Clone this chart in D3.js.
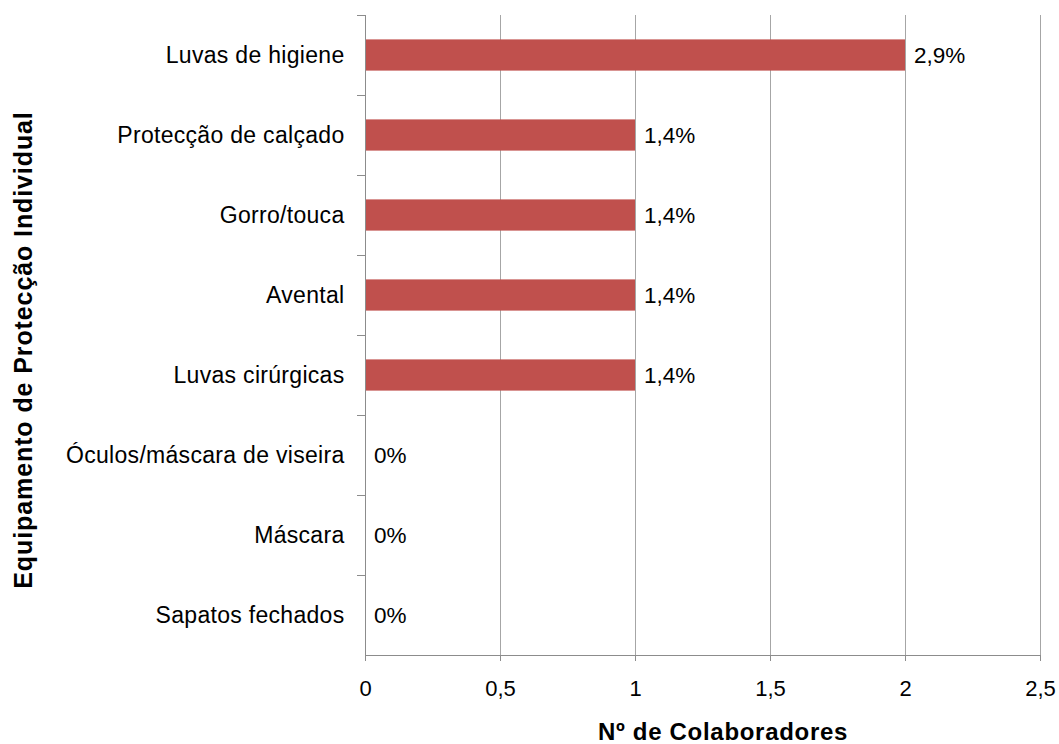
<!DOCTYPE html>
<html>
<head>
<meta charset="utf-8">
<script src="https://cdn.jsdelivr.net/npm/d3@7"></script>
<style>
  html, body { margin: 0; padding: 0; background: #fff; }
  svg { display: block; font-family: "Liberation Sans", Arial, sans-serif; }
</style>
</head>
<body>
<svg id="chart" width="1059" height="744"></svg>
<script>
// Equipment items, top to bottom
const categories = [
  "Luvas de higiene",
  "Protecção de calçado",
  "Gorro/touca",
  "Avental",
  "Luvas cirúrgicas",
  "Óculos/máscara de viseira",
  "Máscara",
  "Sapatos fechados"
];
// Number of staff per item
const counts = [2, 1, 1, 1, 1, 0, 0, 0];
// Share labels shown at the bar ends
const shareLabels = ["2,9%", "1,4%", "1,4%", "1,4%", "1,4%", "0%", "0%", "0%"];
// X axis ticks
const xTicks = [0, 0.5, 1, 1.5, 2, 2.5];

const xTitle = "Nº de Colaboradores";
const yTitle = "Equipamento de Protecção Individual";

const margin = { top: 15, left: 365, right: 19, bottom: 89 };
const W = 1059, H = 744;
const innerW = W - margin.left - margin.right;
const innerH = H - margin.top - margin.bottom;

const svg = d3.select("#chart");
const g = svg.append("g").attr("transform", `translate(${margin.left},${margin.top})`);

const x = d3.scaleLinear().domain([0, 2.5]).range([0, innerW]);
const y = d3.scaleBand().domain(categories).range([0, innerH]).paddingInner(0.61).paddingOuter(0.305);

const gridColor = "#a6a6a6";
const axisColor = "#8c8c8c";
const fmt = d => String(d).replace(".", ",");

// vertical gridlines
g.append("g").selectAll("line").data(xTicks.filter(d => d > 0)).join("line")
  .attr("x1", d => x(d)).attr("x2", d => x(d))
  .attr("y1", 0).attr("y2", innerH)
  .attr("stroke", gridColor).attr("stroke-width", 1).attr("shape-rendering", "crispEdges");

// bars
g.append("g").selectAll("rect").data(categories).join("rect")
  .attr("x", x(0))
  .attr("y", d => y(d))
  .attr("width", (d, i) => x(counts[i]) - x(0))
  .attr("height", y.bandwidth())
  .attr("fill", "#C0504D");

// value labels
g.append("g").selectAll("text").data(categories).join("text")
  .attr("x", (d, i) => x(counts[i]) + 9)
  .attr("y", d => y(d) + y.bandwidth() / 2)
  .attr("dy", "0.36em")
  .attr("font-size", "22.5px")
  .attr("fill", "#000")
  .text((d, i) => shareLabels[i]);

// x axis
const xAxis = g.append("g").attr("transform", `translate(0,${innerH})`)
  .call(d3.axisBottom(x).tickValues(xTicks).tickFormat(fmt).tickSizeInner(6).tickSizeOuter(0).tickPadding(19));
xAxis.select(".domain").attr("stroke", axisColor);
xAxis.selectAll(".tick line").attr("stroke", axisColor);
xAxis.selectAll(".tick text").attr("font-size", "22px").attr("fill", "#000")
  .attr("font-family", "'Liberation Sans', Arial, sans-serif");

// y axis: ticks sit on the band boundaries
const yAxisG = g.append("g");
yAxisG.append("line").attr("x1", 0).attr("x2", 0).attr("y1", 0).attr("y2", innerH + 6)
  .attr("stroke", axisColor).attr("shape-rendering", "crispEdges");
const boundaries = d3.range(categories.length).map(i => y(categories[i]) - y.step() * y.paddingInner() / 2);
yAxisG.selectAll("line.tk").data(boundaries).join("line").attr("class", "tk")
  .attr("x1", -8).attr("x2", 0)
  .attr("y1", d => d).attr("y2", d => d)
  .attr("stroke", axisColor).attr("shape-rendering", "crispEdges");
yAxisG.selectAll("text").data(categories).join("text")
  .attr("x", -20.5)
  .attr("y", d => y(d) + y.bandwidth() / 2)
  .attr("dy", "0.36em")
  .attr("text-anchor", "end")
  .attr("font-size", "23px")
  .attr("letter-spacing", "0.3px")
  .attr("fill", "#000")
  .text(d => d);

// axis titles
svg.append("text")
  .attr("x", 723).attr("y", 740)
  .attr("text-anchor", "middle")
  .attr("font-size", "24px").attr("font-weight", "bold")
  .attr("letter-spacing", "0.7px")
  .text(xTitle);

svg.append("text")
  .attr("transform", "translate(31.5,350) rotate(-90)")
  .attr("text-anchor", "middle")
  .attr("font-size", "25px").attr("font-weight", "bold")
  .attr("letter-spacing", "0.9px")
  .text(yTitle);
</script>
</body>
</html>
